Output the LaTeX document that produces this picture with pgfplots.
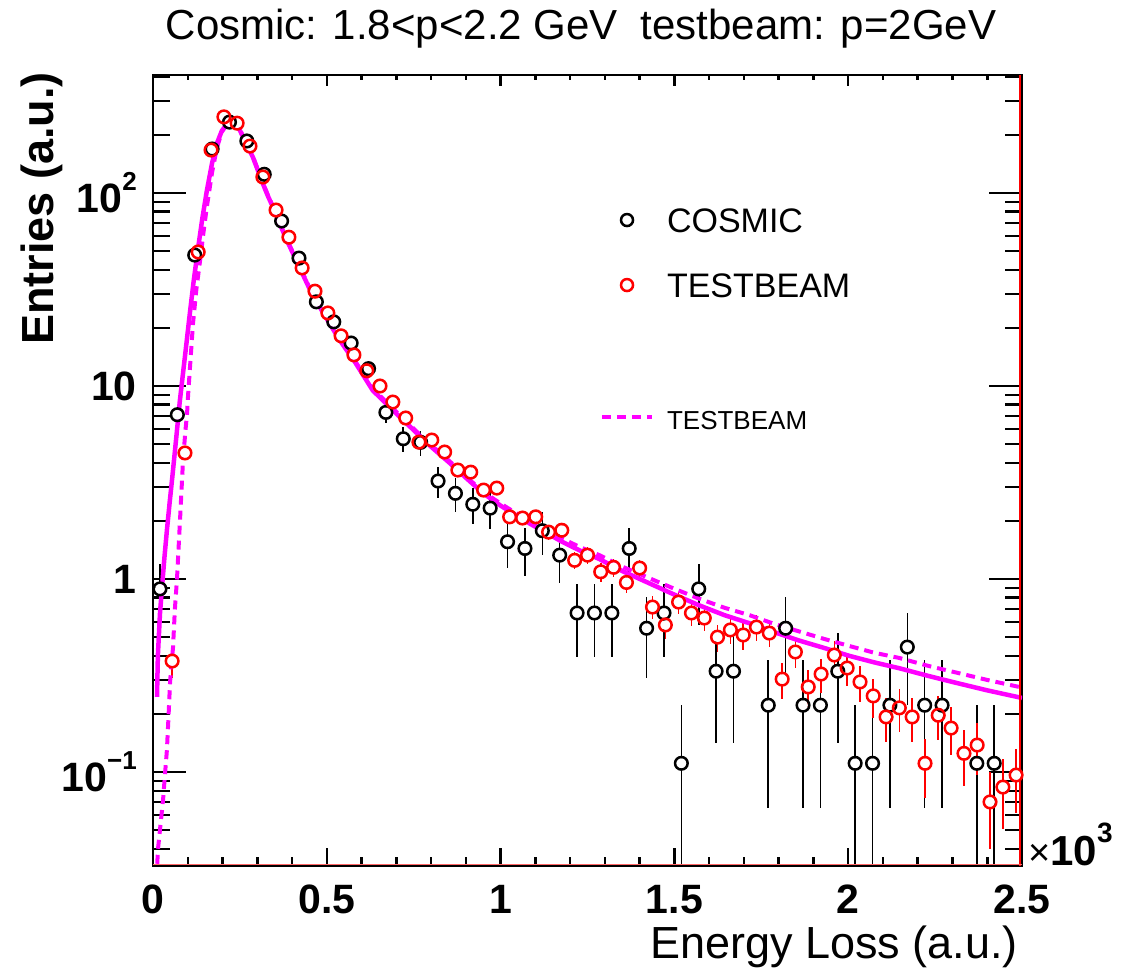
\documentclass[border=0pt]{standalone}
\usepackage{fontspec}
\setmainfont{Liberation Sans}
\usepackage{pgfplots}
\usepackage{pgfplotstable}
\pgfplotsset{compat=1.18}

\definecolor{fitmag}{RGB}{255,0,255}

% cosmic sample: bin centre, entries, upper and lower statistical error
\pgfplotstableread{
x y ep em
20 0.889 0.314 0.314
70 7.10 0.89 0.89
120 47.7 2.30 2.30
170 169 4.33 4.33
220 233 5.09 5.09
270 186 4.54 4.54
320 125 3.72 3.72
370 71.6 2.82 2.82
420 46.0 2.26 2.26
470 27.3 1.74 1.74
520 21.5 1.54 1.54
570 16.7 1.36 1.36
620 12.3 1.17 1.17
670 7.30 0.90 0.90
720 5.33 0.77 0.77
770 5.11 0.75 0.75
820 3.22 0.60 0.60
870 2.78 0.56 0.56
920 2.44 0.52 0.52
970 2.33 0.51 0.51
1020 1.56 0.42 0.42
1070 1.44 0.40 0.40
1120 1.78 0.44 0.44
1170 1.33 0.38 0.38
1220 0.667 0.272 0.272
1270 0.667 0.272 0.272
1320 0.667 0.272 0.272
1370 1.44 0.40 0.40
1420 0.556 0.248 0.248
1470 0.667 0.272 0.272
1520 0.111 0.111 0.1109
1570 0.889 0.314 0.314
1620 0.333 0.192 0.192
1670 0.333 0.192 0.192
1770 0.222 0.157 0.157
1820 0.556 0.248 0.248
1870 0.222 0.157 0.157
1920 0.222 0.157 0.157
1970 0.333 0.192 0.192
2020 0.111 0.111 0.1109
2070 0.111 0.111 0.1109
2120 0.222 0.157 0.157
2170 0.444 0.222 0.222
2220 0.222 0.157 0.157
2270 0.222 0.157 0.157
2370 0.111 0.111 0.1109
2420 0.111 0.111 0.1109
}\cosmic

% testbeam sample: bin centre, entries, statistical error
\pgfplotstableread{
x y err
55 0.376 0.070
92 4.50 0.24
130 49.5 0.80
167 167 1.47
204 248 1.80
242 230 1.73
279 175 1.51
316 121 1.25
354 81.6 1.03
391 59.0 0.88
429 40.9 0.73
466 31.0 0.63
503 23.9 0.56
541 18.2 0.49
578 14.5 0.43
615 12.0 0.39
653 10.0 0.36
690 8.26 0.33
727 6.83 0.30
765 5.12 0.26
802 5.25 0.26
839 4.55 0.24
877 3.67 0.22
914 3.58 0.22
951 2.89 0.19
989 2.96 0.20
1026 2.10 0.165
1063 2.07 0.164
1101 2.10 0.165
1138 1.75 0.151
1176 1.79 0.153
1213 1.25 0.127
1250 1.33 0.131
1288 1.09 0.119
1325 1.15 0.122
1362 0.96 0.112
1400 1.14 0.122
1437 0.716 0.096
1474 0.578 0.087
1512 0.76 0.099
1549 0.667 0.093
1586 0.628 0.090
1624 0.50 0.081
1661 0.545 0.084
1698 0.513 0.082
1736 0.564 0.086
1773 0.525 0.083
1810 0.303 0.063
1848 0.419 0.074
1885 0.276 0.060
1922 0.322 0.065
1960 0.404 0.072
1997 0.346 0.067
2034 0.293 0.062
2072 0.248 0.057
2109 0.193 0.050
2147 0.215 0.053
2184 0.193 0.050
2221 0.111 0.038
2259 0.197 0.051
2296 0.169 0.047
2333 0.125 0.040
2371 0.138 0.042
2408 0.070 0.030
2445 0.0836 0.033
2483 0.0965 0.035
}\testbeam

% fitted curve (solid)
\pgfplotstableread{
x y
11.5 0.245
14 0.40
20 0.66
26 0.91
33 1.3
40 1.79
48 2.5
55 3.3
62 4.4
69 5.9
77 8.3
86 11.5
96 16.5
106 23.8
117 35
129 50.7
142 74
155 103
170 143
184 181
198 210
213 228
225 233
236 230
248 215
259 195
273 173
287 154
301 132
316 112
330 97
345 84.6
365 69
385 57
403 48.5
422 41
450 32
480 25.6
510 20.8
537 17.3
580 13.4
632 9.5
700 7.2
759 5.7
800 4.85
853 4.0
900 3.35
948 2.8
1000 2.4
1060 2.05
1120 1.78
1180 1.55
1230 1.4
1284 1.27
1350 1.1
1428 0.95
1500 0.83
1572 0.73
1644 0.65
1716 0.59
1788 0.53
1859 0.48
1930 0.44
2003 0.40
2075 0.37
2147 0.345
2230 0.315
2310 0.29
2400 0.265
2500 0.242
}\fitsolid

% testbeam curve (dashed)
\pgfplotstableread{
x y
10 0.028
14.4 0.04
20 0.05
29 0.072
35 0.10
40 0.13
45 0.20
49 0.29
53 0.36
57.5 0.44
63 0.70
69 1.0
77.6 2.0
86 4.0
93 5.8
98 7.2
101 9.0
115 21
125 32
135 44
145 62
155 85
170 128
184 172
198 207
213 228
225 234
236 232
248 217
259 197
273 174
287 155
301 133
316 113
330 98
345 85
365 69.5
385 57.5
403 49
422 41.5
450 32.3
480 25.9
510 21.1
537 17.6
580 13.6
632 9.7
700 7.35
759 5.8
800 4.95
853 4.08
900 3.40
948 2.85
1000 2.46
1060 2.11
1120 1.84
1180 1.61
1230 1.46
1284 1.33
1350 1.16
1428 1.01
1500 0.89
1572 0.79
1644 0.71
1716 0.65
1788 0.585
1859 0.535
1930 0.49
2003 0.45
2075 0.415
2147 0.39
2230 0.355
2310 0.328
2400 0.30
2500 0.274
}\fitdashed

\newcommand{\tl}{\fontsize{41}{48}\selectfont\bfseries}
\newcommand{\tsup}[1]{\raisebox{22pt}{\fontsize{26}{26}\selectfont #1}}

\begin{document}
\begin{tikzpicture}
\useasboundingbox (0,0) rectangle (1124pt,970pt);

% long y ticks on both sides
\begin{axis}[scale only axis, width=869pt, height=791pt,
  at={(153pt,104pt)}, anchor=south west,
  xmin=0, xmax=2500, ymode=log, ymin=0.0326, ymax=408.7,
  axis line style={line width=2pt},
  tick style={line width=2.5pt, black}, tick align=inside,
  xtick=\empty,
  ytick={0.1,1,10,100}, yticklabels={,,,},
  minor ytick={0.04,0.05,0.06,0.07,0.08,0.09,0.2,0.3,0.4,0.5,0.6,0.7,0.8,0.9,
    2,3,4,5,6,7,8,9,20,30,40,50,60,70,80,90,200,300,400},
  major tick length=33pt, minor tick length=17pt]
\addplot[draw=none, forget plot] coordinates {(0,1) (2500,1)};
\end{axis}

% short x ticks along the top edge
\begin{axis}[scale only axis, width=869pt, height=791pt,
  at={(153pt,104pt)}, anchor=south west,
  xmin=0, xmax=2500, ymode=log, ymin=0.0326, ymax=408.7,
  axis line style={line width=2pt},
  tick style={line width=2.5pt, black}, tick align=inside,
  ytick=\empty, xtick={0,500,1000,1500,2000,2500},
  xticklabels={,,,,,}, minor x tick num=4, xtick pos=right,
  major tick length=11pt, minor tick length=5pt]
\addplot[draw=none, forget plot] coordinates {(0,1) (2500,1)};
\end{axis}

\begin{axis}[scale only axis, width=869pt, height=791pt,
  at={(153pt,104pt)}, anchor=south west,
  xmin=0, xmax=2500, ymode=log, ymin=0.0326, ymax=408.7,
  axis line style={line width=2pt},
  tick style={line width=2.5pt, black}, tick align=inside,
  xtick={0,500,1000,1500,2000,2500}, xticklabels={0,0.5,1,1.5,2,2.5},
  minor x tick num=4, xtick pos=left,
  ytick={0.1,1,10,100},
  yticklabels={10\tsup{−1},1,10,10\tsup{2}},
  minor ytick={0.04,0.05,0.06,0.07,0.08,0.09,0.2,0.3,0.4,0.5,0.6,0.7,0.8,0.9,
    2,3,4,5,6,7,8,9,20,30,40,50,60,70,80,90,200,300,400},
  major tick length=18pt, minor tick length=9pt,
  x tick label style={font=\tl, inner sep=0pt, yshift=-19pt},
  y tick label style={font=\tl, inner sep=0pt, xshift=-16pt},
  legend cell align=left,
  legend style={draw=none, fill=none, inner sep=0pt, outer sep=0pt,
    at={(axis description cs:0.5144,0.8394)}, anchor=north west,
    row sep=0pt, column sep=13pt,
    nodes={inner sep=0pt, outer sep=0pt, text depth=0pt},
    cells={anchor=base west},
    font=\fontsize{34}{40}\selectfont},
]
\addlegendimage{legend image code/.code={\draw[black, line width=2.5pt] (25pt,12pt) circle[radius=6pt];}}
\addlegendentry{\rule{0pt}{30pt}COSMIC}
\addlegendimage{legend image code/.code={\draw[red, line width=2.5pt] (25pt,12pt) circle[radius=6pt];}}
\addlegendentry{\rule{0pt}{65pt}TESTBEAM}
\addlegendimage{legend image code/.code={\draw[fitmag, line width=4pt, dash pattern=on 9pt off 6pt] (0pt,12pt) -- (50pt,12pt);}}
\addlegendentry{\fontsize{26}{30}\selectfont\rule{0pt}{132pt}TESTBEAM}

% statistical errors
\addplot[forget plot, only marks, mark=none,
  error bars/.cd, y dir=both, y explicit, error mark=none,
  error bar style={black, line width=1.6pt}]
  table[x=x, y=y, y error plus=ep, y error minus=em]{\cosmic};
\addplot[forget plot, only marks, mark=none,
  error bars/.cd, y dir=both, y explicit, error mark=none,
  error bar style={red, line width=1.6pt}]
  table[x=x, y=y, y error=err]{\testbeam};

% keep the error bars out of the open markers
\addplot[forget plot, only marks, mark=*, mark size=5pt,
  mark options={draw=white, fill=white, line width=0.1pt}]
  table[x=x, y=y]{\cosmic};
\addplot[forget plot, only marks, mark=*, mark size=5pt,
  mark options={draw=white, fill=white, line width=0.1pt}]
  table[x=x, y=y]{\testbeam};

% curves
\addplot[forget plot, no marks, fitmag, line width=4.5pt, line join=round]
  table[x=x, y=y]{\fitsolid};
\addplot[forget plot, no marks, fitmag, line width=4pt,
  dash pattern=on 9pt off 6pt]
  table[x=x, y=y]{\fitdashed};

% markers
\addplot[forget plot, only marks, mark=o, mark size=6.3pt, black,
  mark options={line width=2.5pt}]
  table[x=x, y=y]{\cosmic};
\addplot[forget plot, only marks, mark=o, mark size=6.3pt, red,
  mark options={line width=2.5pt}]
  table[x=x, y=y]{\testbeam};

\draw[red, line width=1.6pt] ([xshift=-2pt]rel axis cs:1,0) -- ([xshift=-2pt]rel axis cs:1,1);
\draw[red!60, line width=1pt] ([yshift=1.6pt]rel axis cs:0,0) -- ([yshift=1.6pt]rel axis cs:1,0);
\end{axis}

\node[anchor=base, inner sep=0pt, font=\fontsize{42}{50}\selectfont]
  at (581pt,930pt) {Cosmic: 1.8<p<2.2 GeV\hspace{0.55em}testbeam: p=2GeV};
\node[anchor=base east, inner sep=0pt, font=\fontsize{45}{54}\selectfont]
  at (1018pt,12pt) {Energy Loss (a.u.)};
\node[rotate=90, anchor=base west, inner sep=0pt, font=\fontsize{45}{54}\selectfont\bfseries]
  at (53pt,625pt) {Entries (a.u.)};
\node[anchor=base west, inner sep=0pt]
  at (1028pt,105pt) {\fontsize{38}{40}\selectfont ×\fontsize{42}{48}\selectfont\bfseries 10\raisebox{23pt}{\fontsize{28}{28}\selectfont 3}};
\end{tikzpicture}
\end{document}
